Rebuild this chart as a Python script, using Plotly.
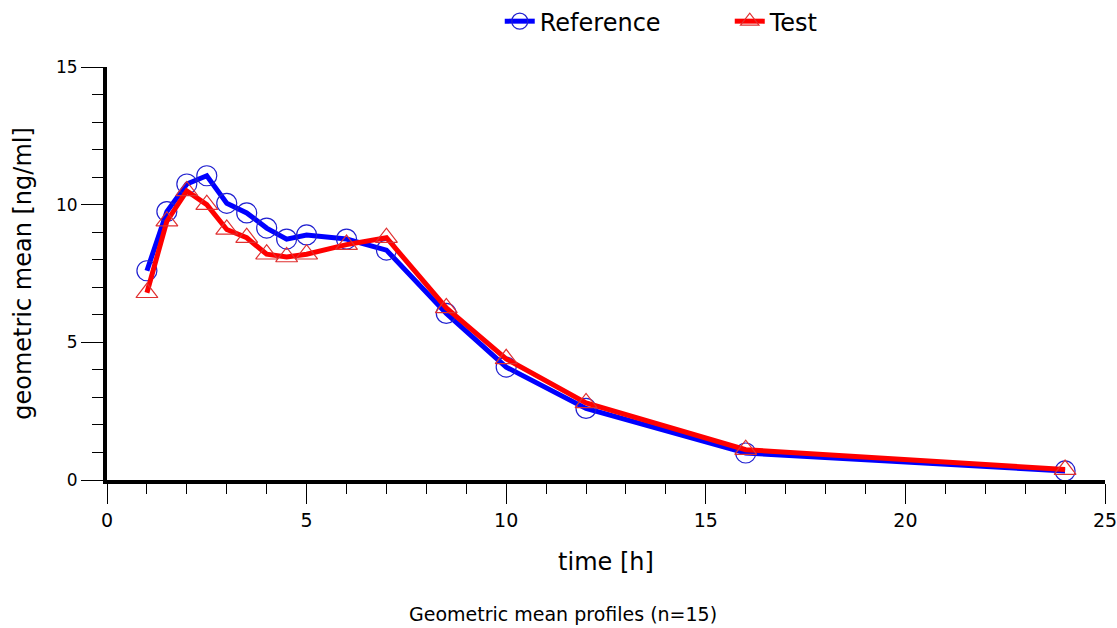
import plotly.graph_objects as go

time_h = [1, 1.5, 2, 2.5, 3, 3.5, 4, 4.5, 5, 6, 7, 8.5, 10, 12, 16, 24]
reference = [7.6, 9.75, 10.75, 11.05, 10.05, 9.7, 9.15, 8.75, 8.9, 8.75, 8.35, 6.05, 4.1, 2.6, 0.98, 0.33]
test = [6.8, 9.4, 10.5, 10.0, 9.1, 8.8, 8.2, 8.1, 8.2, 8.55, 8.8, 6.25, 4.4, 2.8, 1.1, 0.38]

x_ticks = [0, 5, 10, 15, 20, 25]
y_ticks = [0, 5, 10, 15]

FONT = "DejaVu Sans"

fig = go.Figure()
fig.add_trace(go.Scatter(
    x=time_h, y=reference, name="Reference", mode="lines+markers",
    line=dict(color="#0000ff", width=5),
    marker=dict(symbol="circle-open", size=20, color="#2020d0", line=dict(width=1.2)),
))
fig.add_trace(go.Scatter(
    x=time_h, y=test, name="Test", mode="lines+markers",
    line=dict(color="#ff0000", width=5),
    marker=dict(symbol="triangle-up-open", size=19, color="#e03030", line=dict(width=1.2)),
))

fig.update_layout(
    width=1117, height=628,
    paper_bgcolor="white", plot_bgcolor="white",
    margin=dict(l=107, r=12, t=67, b=148, autoexpand=False),
    font=dict(family=FONT, color="black"),
    showlegend=True,
    legend=dict(
        orientation="h", x=0.624, xanchor="center", y=1.11, yanchor="middle",
        font=dict(family=FONT, size=24, color="black"),
        entrywidth=185, entrywidthmode="pixels",
        bgcolor="rgba(0,0,0,0)",
    ),
    annotations=[dict(
        text="Geometric mean profiles (n=15)", xref="paper", yref="paper",
        x=0.457, y=(480 - 614) / 413, xanchor="center", yanchor="middle",
        showarrow=False, font=dict(family=FONT, size=19, color="black"),
    )],
)

fig.update_xaxes(
    range=[0, 25], tickvals=x_ticks, ticktext=[str(v) for v in x_ticks],
    showline=True, linewidth=4, linecolor="black", showgrid=False, zeroline=False,
    ticks="outside", ticklen=20, tickwidth=1, tickcolor="black",
    tickfont=dict(family=FONT, size=19, color="black"),
    ticklabeloverflow="allow",
    minor=dict(dtick=1, tick0=0, ticks="outside", ticklen=10, tickwidth=1, tickcolor="black", showgrid=False),
    title=dict(text="time [h]", font=dict(family=FONT, size=24, color="black"), standoff=24),
)
fig.update_yaxes(
    range=[0, 15], tickvals=y_ticks, ticktext=[str(v) for v in y_ticks],
    showline=True, linewidth=4, linecolor="black", showgrid=False, zeroline=False,
    ticks="outside", ticklen=22, tickwidth=1, tickcolor="black",
    tickfont=dict(family=FONT, size=17, color="black"),
    minor=dict(dtick=1, tick0=0, ticks="outside", ticklen=11, tickwidth=1, tickcolor="black", showgrid=False),
    title=dict(text="geometric mean [ng/ml]", font=dict(family=FONT, size=24, color="black"), standoff=19),
)

fig.write_html(
    "out.html",
    config={"displayModeBar": False},
    post_script="document.body.style.margin='0';document.body.style.overflow='hidden';",
)
